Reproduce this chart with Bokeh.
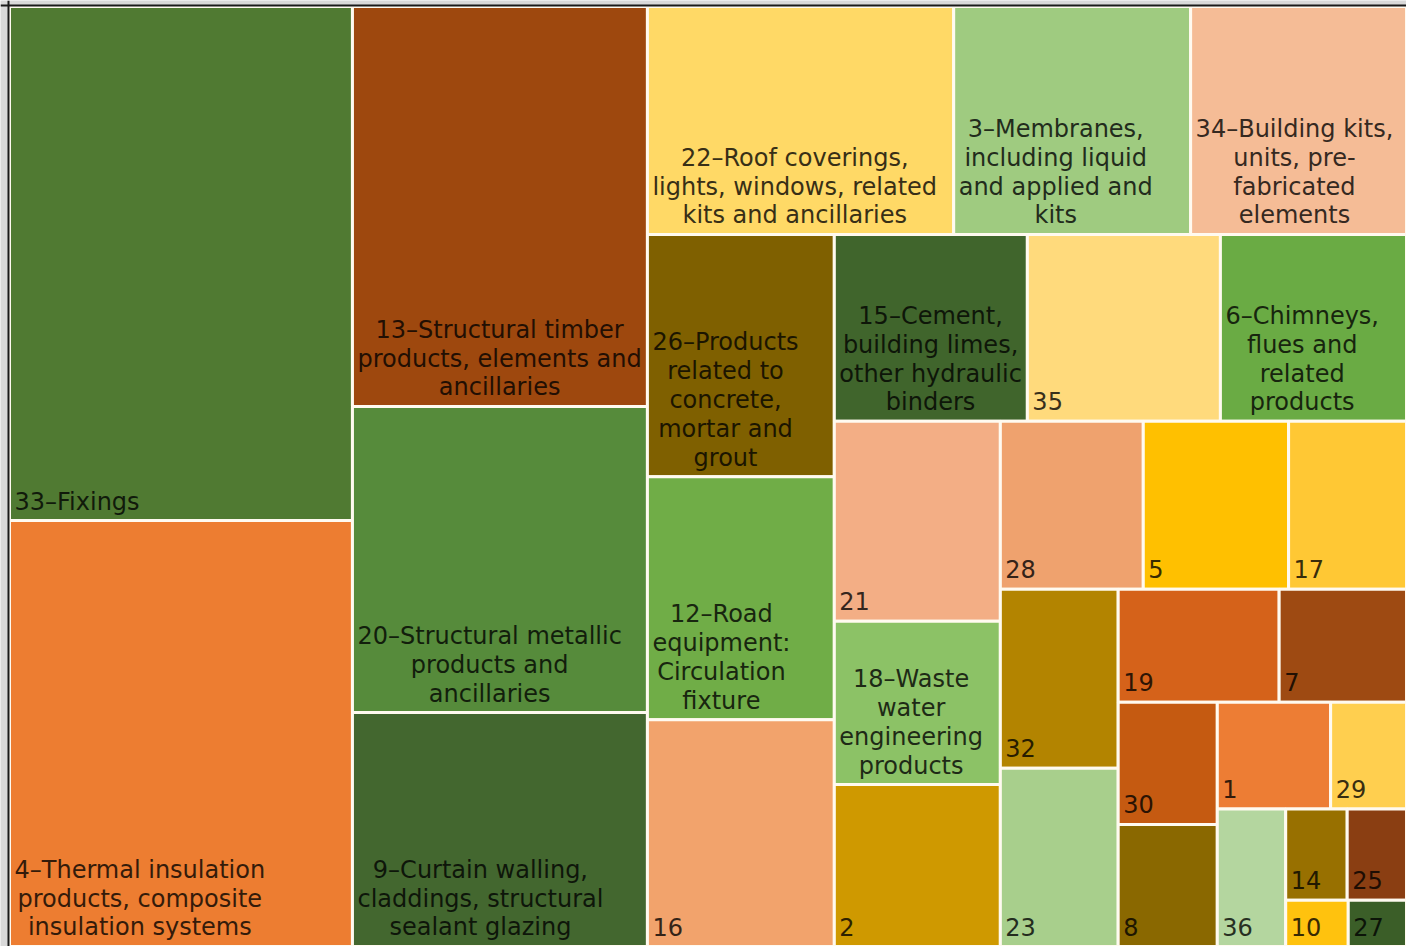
from bokeh.plotting import figure
from bokeh.models import Range1d, ColumnDataSource, Span
from bokeh.embed import file_html
from bokeh.resources import INLINE
from bokeh.core.properties import value

# ---- data ----
codes = ["33", "4", "13", "20", "9", "22", "3", "34", "26", "12", "16", "15", "35", "6",
         "21", "18", "2", "28", "5", "17", "32", "23", "19", "7", "30", "8", "1", "29",
         "36", "14", "25", "10", "27"]

labels = [
    "33–Fixings",
    "4–Thermal insulation\nproducts, composite\ninsulation systems",
    "13–Structural timber\nproducts, elements and\nancillaries",
    "20–Structural metallic\nproducts and\nancillaries",
    "9–Curtain walling,\ncladdings, structural\nsealant glazing",
    "22–Roof coverings,\nlights, windows, related\nkits and ancillaries",
    "3–Membranes,\nincluding liquid\nand applied and\nkits",
    "34–Building kits,\nunits, pre-\nfabricated\nelements",
    "26–Products\nrelated to\nconcrete,\nmortar and\ngrout",
    "12–Road\nequipment:\nCirculation\nfixture",
    "16",
    "15–Cement,\nbuilding limes,\nother hydraulic\nbinders",
    "35",
    "6–Chimneys,\nflues and\nrelated\nproducts",
    "21",
    "18–Waste\nwater\nengineering\nproducts",
    "2", "28", "5", "17", "32", "23", "19", "7", "30", "8", "1", "29",
    "36", "14", "25", "10", "27",
]

values = [1763, 1461, 1180, 903, 690, 698, 540, 492, 453, 454, 424, 361, 361, 348,
          332, 271, 269, 240, 244, 198, 211, 210, 182, 144, 121, 121, 121, 81,
          94, 56, 54, 29, 27]

colors = ["#507a32", "#ed7d31", "#9e480e", "#568b3b", "#43672f", "#ffd966", "#9fcb80",
          "#f5bc96", "#7f6000", "#70ad47", "#f2a36c", "#40652c", "#ffda7c", "#6aab44",
          "#f3ae85", "#8cc266", "#cf9900", "#efa26e", "#ffc000", "#ffc834", "#b38400",
          "#a8cf8c", "#d5621a", "#9e4a12", "#c55a11", "#8a6800", "#ed7d34", "#ffcf4f",
          "#b4d69f", "#987000", "#8a3e12", "#ffc20e", "#3b5e28"]


# ---- squarified treemap layout ----
def layout_row(sizes, x, y, dx, dy):
    width = sum(sizes) / dy
    rects = []
    for s in sizes:
        rects.append((x, y, width, s / width))
        y += s / width
    return rects


def layout_col(sizes, x, y, dx, dy):
    height = sum(sizes) / dx
    rects = []
    for s in sizes:
        rects.append((x, y, s / height, height))
        x += s / height
    return rects


def layout(sizes, x, y, dx, dy):
    return layout_row(sizes, x, y, dx, dy) if dx >= dy else layout_col(sizes, x, y, dx, dy)


def leftover(sizes, x, y, dx, dy):
    if dx >= dy:
        w = sum(sizes) / dy
        return x + w, y, dx - w, dy
    h = sum(sizes) / dx
    return x, y + h, dx, dy - h


def worst(sizes, x, y, dx, dy):
    return max(max(r[2] / r[3], r[3] / r[2]) for r in layout(sizes, x, y, dx, dy))


def squarify(sizes, x, y, dx, dy):
    if not sizes:
        return []
    if len(sizes) == 1:
        return layout(sizes, x, y, dx, dy)
    i = 1
    while i < len(sizes) and worst(sizes[:i], x, y, dx, dy) >= worst(sizes[:i + 1], x, y, dx, dy):
        i += 1
    cur, rest = sizes[:i], sizes[i:]
    lx, ly, ldx, ldy = leftover(cur, x, y, dx, dy)
    return layout(cur, x, y, dx, dy) + squarify(rest, lx, ly, ldx, ldy)


W, H = 1397.0, 940.0
total = float(sum(values))
norm = [v * W * H / total for v in values]
rects = squarify(norm, 0.0, 0.0, W, H)


def darken(hexc, f=0.22):
    r, g, b = (int(hexc[i:i + 2], 16) for i in (1, 3, 5))
    return "#%02x%02x%02x" % (int(r * f), int(g * f), int(b * f))


def bottom_pad(lab):
    # single-line labels without descenders are measured tight by the renderer
    if "\n" not in lab and not any(c in lab for c in "gjpqy,"):
        return 11
    return 5


src = ColumnDataSource(dict(
    left=[r[0] for r in rects],
    right=[r[0] + r[2] for r in rects],
    top=[r[1] for r in rects],
    bottom=[r[1] + r[3] for r in rects],
    tx=[r[0] + 5 for r in rects],
    ty=[r[1] + r[3] - bottom_pad(l) for r, l in zip(rects, labels)],
    fill=colors,
    tcol=[darken(c) for c in colors],
    label=labels,
))

p = figure(width=1406, height=946, output_backend="svg", toolbar_location=None,
           x_range=Range1d(-9, W), y_range=Range1d(H, -6), min_border=0,
           background_fill_color="#d9d9d9", border_fill_color="white")
p.axis.visible = False
p.grid.visible = False
p.outline_line_color = None

p.quad(left="left", right="right", top="top", bottom="bottom", source=src,
       fill_color="fill", line_color="#fffaf0", line_width=3)

p.text(x="tx", y="ty", text="label", source=src, anchor="bottom_left",
       text_align="center", text_color="tcol", text_font=value("DejaVu Sans"),
       text_font_size="24px", text_line_height=1.03)

p.add_layout(Span(location=-1, dimension="height", line_color="#1a1a1a", line_width=2))
p.add_layout(Span(location=-1, dimension="width", line_color="#1a1a1a", line_width=2))

open("out.html", "w").write(file_html(p, INLINE))
